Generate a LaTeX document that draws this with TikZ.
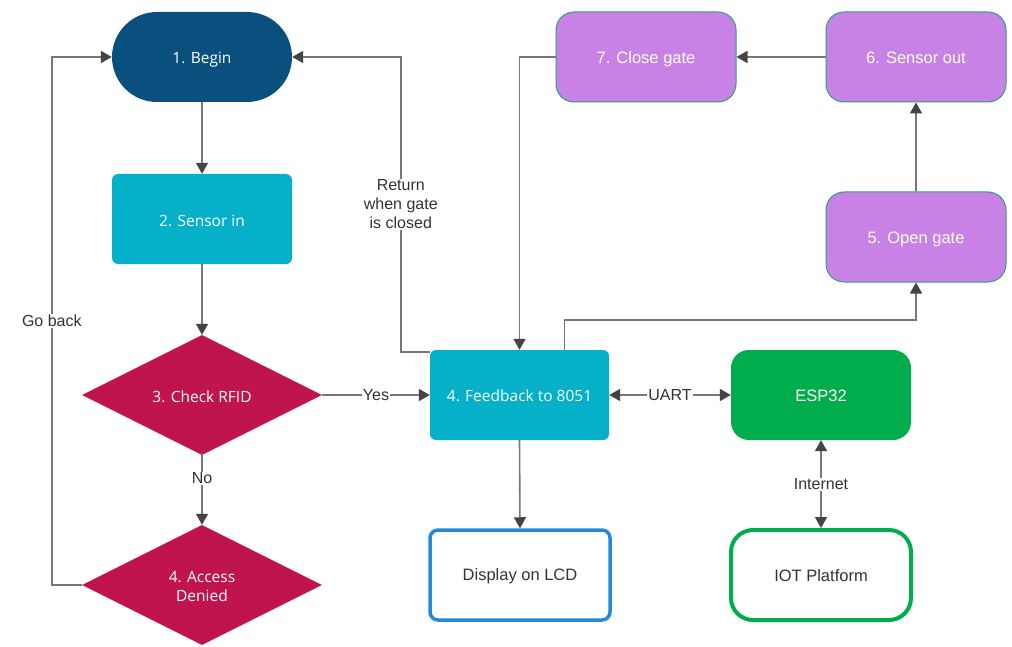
\documentclass[tikz,border=0pt]{standalone}
\usepackage{fontspec}
\setmainfont{Liberation Sans}
\newfontfamily\segoe{Open Sans}
\usetikzlibrary{shapes.geometric,arrows.meta}
\definecolor{cbegin}{HTML}{0A507F}
\definecolor{ccyan}{HTML}{06B0C8}
\definecolor{cred}{HTML}{C0144E}
\definecolor{cpurple}{HTML}{C882E6}
\definecolor{cpborder}{HTML}{2E9E86}
\definecolor{cgreen}{HTML}{00AD4C}
\definecolor{cblue}{HTML}{2488DC}
\definecolor{cline}{HTML}{777777}
\definecolor{ctip}{HTML}{444444}
\definecolor{ctext}{HTML}{333333}
\newcommand\lowtext[2][2pt]{\raisebox{-#1}[\height][\depth]{#2}}
\tikzset{
  base/.style={minimum width=180pt,minimum height=90pt,inner sep=0pt,align=center},
  fillnode/.style={base,draw=none,text=white,font=\segoe\fontsize{15.5}{19}\selectfont},
  stadium/.style={fillnode,fill=cbegin,rounded corners=45pt},
  cyanbox/.style={fillnode,fill=ccyan,rounded corners=6pt},
  dia/.style={diamond,fill=cred,text=white,font=\segoe\fontsize{15.5}{22}\selectfont,minimum width=240pt,minimum height=120pt,inner sep=0pt,align=center},
  purplebox/.style={base,fill=cpurple,draw=cpborder,line width=1pt,rounded corners=18pt,text=white,font=\fontsize{16.5}{19}\selectfont},
  greenbox/.style={base,fill=cgreen,draw=none,rounded corners=18pt,text=white,font=\fontsize{16.5}{19}\selectfont},
  lcdbox/.style={base,fill=white,draw=cblue,line width=3.5pt,rounded corners=8pt,text=ctext,font=\fontsize{16.5}{19}\selectfont},
  iotbox/.style={base,fill=white,draw=cgreen,line width=4pt,rounded corners=22pt,text=ctext,font=\fontsize{16.5}{19}\selectfont},
  conn/.style={draw=cline,line width=1.6pt},
  arr/.style={conn,-{Triangle[length=11pt,width=12pt,color=ctip]}},
  biarr/.style={conn,{Triangle[length=11pt,width=12pt,color=ctip]}-{Triangle[length=11pt,width=12pt,color=ctip]}},
  lbl/.style={fill=white,text=ctext,font=\fontsize{16}{19}\selectfont,inner sep=1pt,align=center}
}
\begin{document}
\begin{tikzpicture}[x=1pt,y=-1pt]
\useasboundingbox[fill=white] (0,0) rectangle (1012,647);
\node[stadium] (begin) at (202,57) {\lowtext[3pt]{1. Begin}};
\node[cyanbox] (sensor) at (202,219) {\lowtext{2. Sensor in}};
\node[dia] (rfid) at (202,395) {\lowtext{3. Check RFID}};
\node[dia] (denied) at (202,585) {\lowtext[3pt]{4. Access}\\Denied};
\node[cyanbox,minimum width=179pt] (fb) at (519.5,395) {\lowtext[1pt]{4. Feedback to 8051}};
\node[lcdbox] (lcd) at (520,575) {\lowtext[1pt]{Display on LCD}};
\node[greenbox] (esp) at (821,395) {\lowtext[1pt]{ESP32}};
\node[iotbox] (iot) at (821,575) {\lowtext[1pt]{IOT Platform}};
\node[purplebox] (close) at (646,57) {\lowtext{7. Close gate}};
\node[purplebox] (sout) at (916,57) {\lowtext[1pt]{6. Sensor out}};
\node[purplebox] (open) at (916,237) {\lowtext[2pt]{5. Open gate}};

\draw[arr] (begin.south) -- (sensor.north);
\draw[arr] (sensor.south) -- (rfid.north);
\draw[arr] (rfid.east) -- node[lbl]{Yes} (fb.west);
\draw[arr] (rfid.south) -- node[lbl,pos=0.33]{No} (denied.north);
\draw[arr] (denied.west) -- ++(-30,0) |- node[lbl,pos=0.25]{Go back} (begin.west);
\draw[arr] ([yshift=-2pt]fb.north west) -- ++(-29,0) |- node[lbl,pos=0.25]{Return\\when gate\\is closed} (begin.east);
\draw[arr] (close.west) -| (fb.north);
\draw[arr] ([xshift=45pt]fb.north) -- ++(0,-30) -| (open.south);
\draw[arr] (open.north) -- (sout.south);
\draw[arr] (sout.west) -- (close.east);
\draw[biarr] (fb.east) -- node[lbl]{UART} (esp.west);
\draw[biarr] (esp.south) -- node[lbl]{Internet} (iot.north);
\draw[arr] (fb.south) -- (lcd.north);
\end{tikzpicture}
\end{document}
